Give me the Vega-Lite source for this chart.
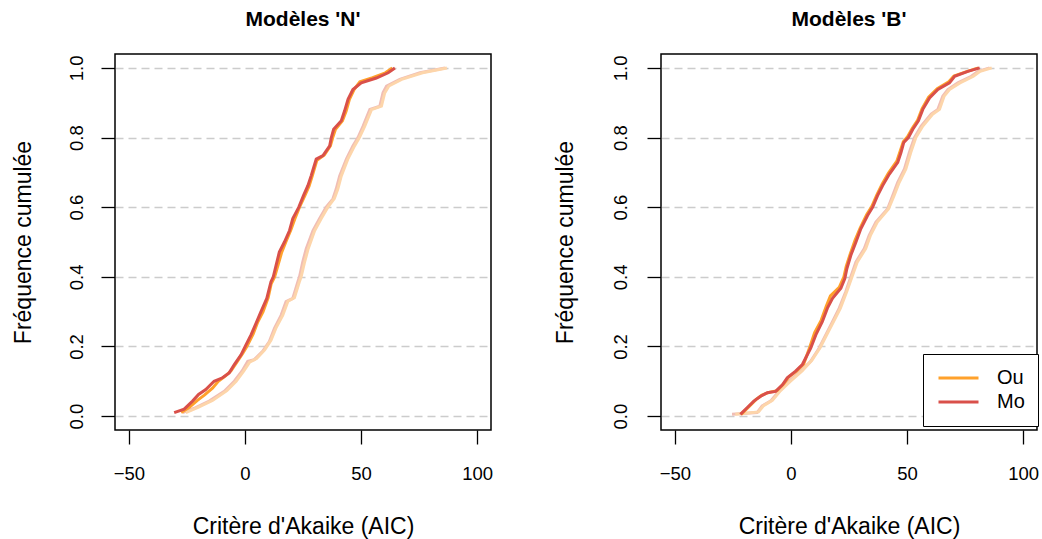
{
"$schema": "https://vega.github.io/schema/vega-lite/v6.json",
"background": "white",
"padding": {"left": 11, "top": 8, "right": 2, "bottom": 2},
"bounds": "flush",
"spacing": 170,
"config": {
  "font": "Liberation Sans",
  "view": {"stroke": "black", "strokeWidth": 1.5},
  "axis": {"domain": false, "tickColor": "black", "tickWidth": 1.3, "tickSize": 14, "labelFont": "Liberation Sans", "labelFontSize": 18.5, "labelColor": "black", "titleFont": "Liberation Sans", "titleFontSize": 23, "titleFontWeight": "normal", "titleColor": "black", "grid": false},
  "title": {"font": "Liberation Sans", "fontSize": 21, "fontWeight": "bold", "color": "black", "anchor": "middle"}
},
"resolve": {"legend": {"color": "independent"}},
"datasets": {"d": [
{"p":"N","s":"Mo","x":-30.5,"y":0.01},{"p":"N","s":"Mo","x":-26.2,"y":0.02},{"p":"N","s":"Mo","x":-22.6,"y":0.043},{"p":"N","s":"Mo","x":-20,"y":0.062},{"p":"N","s":"Mo","x":-16.9,"y":0.076},{"p":"N","s":"Mo","x":-13.3,"y":0.1},{"p":"N","s":"Mo","x":-9.7,"y":0.11},{"p":"N","s":"Mo","x":-6.8,"y":0.124},{"p":"N","s":"Mo","x":-4.6,"y":0.148},{"p":"N","s":"Mo","x":-1.7,"y":0.176},{"p":"N","s":"Mo","x":0.1,"y":0.2},{"p":"N","s":"Mo","x":2.6,"y":0.233},{"p":"N","s":"Mo","x":4.8,"y":0.267},{"p":"N","s":"Mo","x":6.9,"y":0.3},{"p":"N","s":"Mo","x":9.4,"y":0.338},{"p":"N","s":"Mo","x":11.2,"y":0.386},{"p":"N","s":"Mo","x":12.2,"y":0.4},{"p":"N","s":"Mo","x":13.4,"y":0.433},{"p":"N","s":"Mo","x":14.8,"y":0.471},{"p":"N","s":"Mo","x":17,"y":0.5},{"p":"N","s":"Mo","x":19.2,"y":0.533},{"p":"N","s":"Mo","x":20.6,"y":0.567},{"p":"N","s":"Mo","x":23.2,"y":0.6},{"p":"N","s":"Mo","x":25.2,"y":0.633},{"p":"N","s":"Mo","x":27.1,"y":0.662},{"p":"N","s":"Mo","x":28.5,"y":0.69},{"p":"N","s":"Mo","x":30.7,"y":0.738},{"p":"N","s":"Mo","x":33.6,"y":0.748},{"p":"N","s":"Mo","x":36.5,"y":0.776},{"p":"N","s":"Mo","x":37.2,"y":0.8},{"p":"N","s":"Mo","x":38.2,"y":0.824},{"p":"N","s":"Mo","x":41.5,"y":0.848},{"p":"N","s":"Mo","x":42.9,"y":0.876},{"p":"N","s":"Mo","x":44.4,"y":0.91},{"p":"N","s":"Mo","x":46.5,"y":0.938},{"p":"N","s":"Mo","x":50.1,"y":0.957},{"p":"N","s":"Mo","x":56.6,"y":0.971},{"p":"N","s":"Mo","x":61.7,"y":0.986},{"p":"N","s":"Mo","x":64.6,"y":1.0},
{"p":"N","s":"Ou","x":-27.5,"y":0.01},{"p":"N","s":"Ou","x":-24,"y":0.025},{"p":"N","s":"Ou","x":-20.5,"y":0.045},{"p":"N","s":"Ou","x":-17.5,"y":0.06},{"p":"N","s":"Ou","x":-14,"y":0.08},{"p":"N","s":"Ou","x":-11.5,"y":0.1},{"p":"N","s":"Ou","x":-8.5,"y":0.115},{"p":"N","s":"Ou","x":-6,"y":0.13},{"p":"N","s":"Ou","x":-3.5,"y":0.155},{"p":"N","s":"Ou","x":-1,"y":0.18},{"p":"N","s":"Ou","x":0.8,"y":0.2},{"p":"N","s":"Ou","x":3.5,"y":0.235},{"p":"N","s":"Ou","x":5.5,"y":0.27},{"p":"N","s":"Ou","x":7.8,"y":0.3},{"p":"N","s":"Ou","x":10,"y":0.34},{"p":"N","s":"Ou","x":11.3,"y":0.38},{"p":"N","s":"Ou","x":12.8,"y":0.4},{"p":"N","s":"Ou","x":14.3,"y":0.435},{"p":"N","s":"Ou","x":15.8,"y":0.47},{"p":"N","s":"Ou","x":17.6,"y":0.5},{"p":"N","s":"Ou","x":19.8,"y":0.535},{"p":"N","s":"Ou","x":21.5,"y":0.567},{"p":"N","s":"Ou","x":23.5,"y":0.6},{"p":"N","s":"Ou","x":25.8,"y":0.633},{"p":"N","s":"Ou","x":27.6,"y":0.66},{"p":"N","s":"Ou","x":29,"y":0.69},{"p":"N","s":"Ou","x":31,"y":0.735},{"p":"N","s":"Ou","x":34.2,"y":0.75},{"p":"N","s":"Ou","x":36.8,"y":0.776},{"p":"N","s":"Ou","x":37.8,"y":0.8},{"p":"N","s":"Ou","x":39,"y":0.824},{"p":"N","s":"Ou","x":42,"y":0.848},{"p":"N","s":"Ou","x":43.6,"y":0.876},{"p":"N","s":"Ou","x":45,"y":0.91},{"p":"N","s":"Ou","x":47,"y":0.938},{"p":"N","s":"Ou","x":49.5,"y":0.96},{"p":"N","s":"Ou","x":55,"y":0.972},{"p":"N","s":"Ou","x":60.5,"y":0.986},{"p":"N","s":"Ou","x":63.5,"y":1.0},
{"p":"N","s":"Mo_ref","x":-26.9,"y":0.01},{"p":"N","s":"Mo_ref","x":-21.2,"y":0.024},{"p":"N","s":"Mo_ref","x":-15.4,"y":0.043},{"p":"N","s":"Mo_ref","x":-8.9,"y":0.071},{"p":"N","s":"Mo_ref","x":-4.6,"y":0.1},{"p":"N","s":"Mo_ref","x":-1.3,"y":0.129},{"p":"N","s":"Mo_ref","x":1.2,"y":0.157},{"p":"N","s":"Mo_ref","x":4,"y":0.162},{"p":"N","s":"Mo_ref","x":7.6,"y":0.186},{"p":"N","s":"Mo_ref","x":10.5,"y":0.214},{"p":"N","s":"Mo_ref","x":12.7,"y":0.252},{"p":"N","s":"Mo_ref","x":15.6,"y":0.29},{"p":"N","s":"Mo_ref","x":17.7,"y":0.329},{"p":"N","s":"Mo_ref","x":20.6,"y":0.338},{"p":"N","s":"Mo_ref","x":22.8,"y":0.386},{"p":"N","s":"Mo_ref","x":23.5,"y":0.4},{"p":"N","s":"Mo_ref","x":24.9,"y":0.443},{"p":"N","s":"Mo_ref","x":26.4,"y":0.481},{"p":"N","s":"Mo_ref","x":29.3,"y":0.533},{"p":"N","s":"Mo_ref","x":32.1,"y":0.567},{"p":"N","s":"Mo_ref","x":35,"y":0.6},{"p":"N","s":"Mo_ref","x":37.9,"y":0.624},{"p":"N","s":"Mo_ref","x":39.3,"y":0.652},{"p":"N","s":"Mo_ref","x":40.8,"y":0.69},{"p":"N","s":"Mo_ref","x":43.7,"y":0.738},{"p":"N","s":"Mo_ref","x":46.5,"y":0.776},{"p":"N","s":"Mo_ref","x":48.7,"y":0.8},{"p":"N","s":"Mo_ref","x":50.9,"y":0.833},{"p":"N","s":"Mo_ref","x":53.8,"y":0.881},{"p":"N","s":"Mo_ref","x":58.1,"y":0.89},{"p":"N","s":"Mo_ref","x":59.5,"y":0.929},{"p":"N","s":"Mo_ref","x":61,"y":0.948},{"p":"N","s":"Mo_ref","x":66.7,"y":0.967},{"p":"N","s":"Mo_ref","x":75.4,"y":0.986},{"p":"N","s":"Mo_ref","x":86.2,"y":1.0},
{"p":"N","s":"Ou_ref","x":-25.5,"y":0.01},{"p":"N","s":"Ou_ref","x":-20,"y":0.026},{"p":"N","s":"Ou_ref","x":-14,"y":0.045},{"p":"N","s":"Ou_ref","x":-7.8,"y":0.073},{"p":"N","s":"Ou_ref","x":-3.8,"y":0.1},{"p":"N","s":"Ou_ref","x":-0.5,"y":0.13},{"p":"N","s":"Ou_ref","x":2,"y":0.155},{"p":"N","s":"Ou_ref","x":5,"y":0.165},{"p":"N","s":"Ou_ref","x":8.5,"y":0.19},{"p":"N","s":"Ou_ref","x":11.2,"y":0.218},{"p":"N","s":"Ou_ref","x":13.5,"y":0.255},{"p":"N","s":"Ou_ref","x":16.3,"y":0.29},{"p":"N","s":"Ou_ref","x":18.5,"y":0.33},{"p":"N","s":"Ou_ref","x":21.3,"y":0.34},{"p":"N","s":"Ou_ref","x":23.4,"y":0.385},{"p":"N","s":"Ou_ref","x":24.2,"y":0.4},{"p":"N","s":"Ou_ref","x":25.6,"y":0.44},{"p":"N","s":"Ou_ref","x":27.2,"y":0.48},{"p":"N","s":"Ou_ref","x":30,"y":0.532},{"p":"N","s":"Ou_ref","x":32.8,"y":0.567},{"p":"N","s":"Ou_ref","x":35.7,"y":0.6},{"p":"N","s":"Ou_ref","x":38.5,"y":0.625},{"p":"N","s":"Ou_ref","x":40,"y":0.652},{"p":"N","s":"Ou_ref","x":41.5,"y":0.69},{"p":"N","s":"Ou_ref","x":44.3,"y":0.738},{"p":"N","s":"Ou_ref","x":47.2,"y":0.776},{"p":"N","s":"Ou_ref","x":49.3,"y":0.8},{"p":"N","s":"Ou_ref","x":51.6,"y":0.833},{"p":"N","s":"Ou_ref","x":54.5,"y":0.88},{"p":"N","s":"Ou_ref","x":58.8,"y":0.89},{"p":"N","s":"Ou_ref","x":60.2,"y":0.928},{"p":"N","s":"Ou_ref","x":62,"y":0.948},{"p":"N","s":"Ou_ref","x":67.5,"y":0.967},{"p":"N","s":"Ou_ref","x":76.5,"y":0.986},{"p":"N","s":"Ou_ref","x":87,"y":1.0},
{"p":"B","s":"Mo","x":-21.8,"y":0.005},{"p":"B","s":"Mo","x":-18.9,"y":0.024},{"p":"B","s":"Mo","x":-16,"y":0.043},{"p":"B","s":"Mo","x":-13.1,"y":0.057},{"p":"B","s":"Mo","x":-10.2,"y":0.067},{"p":"B","s":"Mo","x":-6.6,"y":0.071},{"p":"B","s":"Mo","x":-3.7,"y":0.09},{"p":"B","s":"Mo","x":-1.6,"y":0.11},{"p":"B","s":"Mo","x":2,"y":0.129},{"p":"B","s":"Mo","x":4.9,"y":0.148},{"p":"B","s":"Mo","x":8.5,"y":0.195},{"p":"B","s":"Mo","x":10.7,"y":0.233},{"p":"B","s":"Mo","x":13.5,"y":0.271},{"p":"B","s":"Mo","x":15.7,"y":0.31},{"p":"B","s":"Mo","x":17.9,"y":0.338},{"p":"B","s":"Mo","x":21.5,"y":0.367},{"p":"B","s":"Mo","x":23.2,"y":0.395},{"p":"B","s":"Mo","x":24.1,"y":0.424},{"p":"B","s":"Mo","x":25.8,"y":0.462},{"p":"B","s":"Mo","x":28,"y":0.5},{"p":"B","s":"Mo","x":30.1,"y":0.538},{"p":"B","s":"Mo","x":33,"y":0.576},{"p":"B","s":"Mo","x":35.2,"y":0.6},{"p":"B","s":"Mo","x":37.3,"y":0.633},{"p":"B","s":"Mo","x":39.5,"y":0.662},{"p":"B","s":"Mo","x":42.4,"y":0.695},{"p":"B","s":"Mo","x":46,"y":0.729},{"p":"B","s":"Mo","x":47.4,"y":0.757},{"p":"B","s":"Mo","x":48.6,"y":0.786},{"p":"B","s":"Mo","x":50.6,"y":0.8},{"p":"B","s":"Mo","x":52.5,"y":0.824},{"p":"B","s":"Mo","x":54.9,"y":0.848},{"p":"B","s":"Mo","x":56.8,"y":0.881},{"p":"B","s":"Mo","x":59.7,"y":0.914},{"p":"B","s":"Mo","x":63.3,"y":0.938},{"p":"B","s":"Mo","x":68.3,"y":0.957},{"p":"B","s":"Mo","x":70.5,"y":0.976},{"p":"B","s":"Mo","x":76.2,"y":0.99},{"p":"B","s":"Mo","x":81.3,"y":1.0},
{"p":"B","s":"Ou","x":-21.5,"y":0.005},{"p":"B","s":"Ou","x":-18,"y":0.028},{"p":"B","s":"Ou","x":-15,"y":0.048},{"p":"B","s":"Ou","x":-12.5,"y":0.06},{"p":"B","s":"Ou","x":-9.5,"y":0.068},{"p":"B","s":"Ou","x":-6,"y":0.073},{"p":"B","s":"Ou","x":-3.2,"y":0.092},{"p":"B","s":"Ou","x":-1,"y":0.112},{"p":"B","s":"Ou","x":2.5,"y":0.13},{"p":"B","s":"Ou","x":5.5,"y":0.15},{"p":"B","s":"Ou","x":8.2,"y":0.2},{"p":"B","s":"Ou","x":10.2,"y":0.24},{"p":"B","s":"Ou","x":13,"y":0.275},{"p":"B","s":"Ou","x":15.2,"y":0.315},{"p":"B","s":"Ou","x":17,"y":0.345},{"p":"B","s":"Ou","x":20.8,"y":0.37},{"p":"B","s":"Ou","x":22.8,"y":0.4},{"p":"B","s":"Ou","x":23.8,"y":0.43},{"p":"B","s":"Ou","x":25.5,"y":0.465},{"p":"B","s":"Ou","x":27.6,"y":0.505},{"p":"B","s":"Ou","x":29.8,"y":0.54},{"p":"B","s":"Ou","x":32.6,"y":0.578},{"p":"B","s":"Ou","x":34.8,"y":0.602},{"p":"B","s":"Ou","x":37,"y":0.635},{"p":"B","s":"Ou","x":39.2,"y":0.665},{"p":"B","s":"Ou","x":42,"y":0.698},{"p":"B","s":"Ou","x":45.6,"y":0.732},{"p":"B","s":"Ou","x":47,"y":0.76},{"p":"B","s":"Ou","x":48.4,"y":0.788},{"p":"B","s":"Ou","x":50.3,"y":0.803},{"p":"B","s":"Ou","x":52.2,"y":0.826},{"p":"B","s":"Ou","x":54.6,"y":0.85},{"p":"B","s":"Ou","x":56.5,"y":0.883},{"p":"B","s":"Ou","x":59.3,"y":0.916},{"p":"B","s":"Ou","x":63,"y":0.94},{"p":"B","s":"Ou","x":68,"y":0.96},{"p":"B","s":"Ou","x":70.2,"y":0.977},{"p":"B","s":"Ou","x":76,"y":0.99},{"p":"B","s":"Ou","x":80.8,"y":1.0},
{"p":"B","s":"Mo_ref","x":-25.4,"y":0.005},{"p":"B","s":"Mo_ref","x":-14.6,"y":0.01},{"p":"B","s":"Mo_ref","x":-12.4,"y":0.029},{"p":"B","s":"Mo_ref","x":-8.8,"y":0.043},{"p":"B","s":"Mo_ref","x":-5.2,"y":0.071},{"p":"B","s":"Mo_ref","x":-0.9,"y":0.1},{"p":"B","s":"Mo_ref","x":4.2,"y":0.129},{"p":"B","s":"Mo_ref","x":8.5,"y":0.157},{"p":"B","s":"Mo_ref","x":12.1,"y":0.195},{"p":"B","s":"Mo_ref","x":15,"y":0.233},{"p":"B","s":"Mo_ref","x":17.9,"y":0.271},{"p":"B","s":"Mo_ref","x":20.8,"y":0.31},{"p":"B","s":"Mo_ref","x":23.6,"y":0.357},{"p":"B","s":"Mo_ref","x":25.8,"y":0.4},{"p":"B","s":"Mo_ref","x":28,"y":0.443},{"p":"B","s":"Mo_ref","x":31.6,"y":0.481},{"p":"B","s":"Mo_ref","x":33.7,"y":0.519},{"p":"B","s":"Mo_ref","x":36.6,"y":0.557},{"p":"B","s":"Mo_ref","x":41.6,"y":0.595},{"p":"B","s":"Mo_ref","x":43.8,"y":0.633},{"p":"B","s":"Mo_ref","x":46,"y":0.671},{"p":"B","s":"Mo_ref","x":48.9,"y":0.71},{"p":"B","s":"Mo_ref","x":51,"y":0.757},{"p":"B","s":"Mo_ref","x":53.2,"y":0.8},{"p":"B","s":"Mo_ref","x":56.1,"y":0.833},{"p":"B","s":"Mo_ref","x":60.4,"y":0.867},{"p":"B","s":"Mo_ref","x":63.3,"y":0.881},{"p":"B","s":"Mo_ref","x":65.4,"y":0.919},{"p":"B","s":"Mo_ref","x":67.6,"y":0.938},{"p":"B","s":"Mo_ref","x":71.9,"y":0.957},{"p":"B","s":"Mo_ref","x":77.7,"y":0.976},{"p":"B","s":"Mo_ref","x":80.6,"y":0.99},{"p":"B","s":"Mo_ref","x":85.6,"y":1.0},
{"p":"B","s":"Ou_ref","x":-24,"y":0.005},{"p":"B","s":"Ou_ref","x":-14,"y":0.012},{"p":"B","s":"Ou_ref","x":-11.8,"y":0.03},{"p":"B","s":"Ou_ref","x":-8,"y":0.045},{"p":"B","s":"Ou_ref","x":-4.5,"y":0.073},{"p":"B","s":"Ou_ref","x":-0.2,"y":0.1},{"p":"B","s":"Ou_ref","x":4.8,"y":0.13},{"p":"B","s":"Ou_ref","x":9,"y":0.16},{"p":"B","s":"Ou_ref","x":12.6,"y":0.197},{"p":"B","s":"Ou_ref","x":15.5,"y":0.235},{"p":"B","s":"Ou_ref","x":18.4,"y":0.272},{"p":"B","s":"Ou_ref","x":21.3,"y":0.31},{"p":"B","s":"Ou_ref","x":24,"y":0.357},{"p":"B","s":"Ou_ref","x":26.3,"y":0.4},{"p":"B","s":"Ou_ref","x":28.6,"y":0.443},{"p":"B","s":"Ou_ref","x":32.2,"y":0.481},{"p":"B","s":"Ou_ref","x":34.3,"y":0.52},{"p":"B","s":"Ou_ref","x":37.2,"y":0.557},{"p":"B","s":"Ou_ref","x":42,"y":0.595},{"p":"B","s":"Ou_ref","x":44.4,"y":0.633},{"p":"B","s":"Ou_ref","x":46.6,"y":0.671},{"p":"B","s":"Ou_ref","x":49.5,"y":0.71},{"p":"B","s":"Ou_ref","x":51.6,"y":0.757},{"p":"B","s":"Ou_ref","x":53.8,"y":0.8},{"p":"B","s":"Ou_ref","x":56.8,"y":0.833},{"p":"B","s":"Ou_ref","x":61,"y":0.867},{"p":"B","s":"Ou_ref","x":64,"y":0.881},{"p":"B","s":"Ou_ref","x":66,"y":0.919},{"p":"B","s":"Ou_ref","x":68.3,"y":0.938},{"p":"B","s":"Ou_ref","x":72.8,"y":0.957},{"p":"B","s":"Ou_ref","x":78.6,"y":0.976},{"p":"B","s":"Ou_ref","x":81.5,"y":0.99},{"p":"B","s":"Ou_ref","x":86.5,"y":1.0}
]},
"hconcat": [
{
  "width": 376, "height": 376,
  "title": {"text": "Modèles 'N'", "offset": 7, "baseline": "alphabetic"},
  "data": {"name": "d"},
  "transform": [{"filter": "datum.p === 'N'"}],
  "encoding": {
    "x": {"field": "x", "type": "quantitative", "scale": {"domain": [-56, 106], "nice": false, "zero": false}, "axis": {"values": [-50, 0, 50, 100], "title": "Critère d'Akaike (AIC)", "labelBaseline": "alphabetic", "labelPadding": 35, "titleY": 103, "titleBaseline": "alphabetic"}},
    "y": {"field": "y", "type": "quantitative", "scale": {"domain": [-0.04, 1.04], "nice": false, "zero": false}, "axis": {"values": [0, 0.2, 0.4, 0.6, 0.8, 1], "format": ".1f", "labelAngle": -90, "labelAlign": "center", "labelBaseline": "middle", "labelPadding": 25, "grid": true, "gridDash": [8, 5], "gridColor": "#cccccc", "gridWidth": 1.5, "title": "Fréquence cumulée", "titleX": -92, "titleBaseline": "middle", "titleAngle": -90}},
    "color": {"field": "s", "type": "nominal", "scale": {"domain": ["Ou", "Mo", "Ou_ref", "Mo_ref"], "range": ["#FFA12B", "#D9504A", "#FDD5AA", "#F0BDB5"]}, "legend": null}
  },
  "layer": [
    {"transform": [{"filter": "datum.s === 'Ou_ref' || datum.s === 'Mo_ref'"}], "mark": {"type": "line", "strokeWidth": 3}},
    {"transform": [{"filter": "datum.s === 'Ou'"}], "mark": {"type": "line", "strokeWidth": 3}},
    {"transform": [{"filter": "datum.s === 'Mo'"}], "mark": {"type": "line", "strokeWidth": 3}}
  ]
},
{
  "width": 376, "height": 376,
  "title": {"text": "Modèles 'B'", "offset": 7, "baseline": "alphabetic"},
  "data": {"name": "d"},
  "transform": [{"filter": "datum.p === 'B'"}],
  "encoding": {
    "x": {"field": "x", "type": "quantitative", "scale": {"domain": [-56, 106], "nice": false, "zero": false}, "axis": {"values": [-50, 0, 50, 100], "title": "Critère d'Akaike (AIC)", "labelBaseline": "alphabetic", "labelPadding": 35, "titleY": 103, "titleBaseline": "alphabetic"}},
    "y": {"field": "y", "type": "quantitative", "scale": {"domain": [-0.04, 1.04], "nice": false, "zero": false}, "axis": {"values": [0, 0.2, 0.4, 0.6, 0.8, 1], "format": ".1f", "labelAngle": -90, "labelAlign": "center", "labelBaseline": "middle", "labelPadding": 27, "grid": true, "gridDash": [8, 5], "gridColor": "#cccccc", "gridWidth": 1.5, "title": "Fréquence cumulée", "titleX": -96, "titleBaseline": "middle", "titleAngle": -90}},
    "color": {"field": "s", "type": "nominal", "scale": {"domain": ["Ou", "Mo", "Ou_ref", "Mo_ref"], "range": ["#FFA12B", "#D9504A", "#FDD5AA", "#F0BDB5"]},
      "legend": {"values": ["Ou", "Mo"], "orient": "none", "legendX": 262, "legendY": 300, "title": null, "symbolType": "stroke", "symbolSize": 1600, "symbolStrokeWidth": 3, "clipHeight": 22, "rowPadding": 2, "padding": 13, "symbolOffset": 1, "labelOffset": 17, "labelFontSize": 20, "labelFont": "Liberation Sans", "labelColor": "black", "strokeColor": "black", "fillColor": "white", "cornerRadius": 0}}
  },
  "layer": [
    {"transform": [{"filter": "datum.s === 'Ou_ref' || datum.s === 'Mo_ref'"}], "mark": {"type": "line", "strokeWidth": 3}},
    {"transform": [{"filter": "datum.s === 'Ou'"}], "mark": {"type": "line", "strokeWidth": 3}},
    {"transform": [{"filter": "datum.s === 'Mo'"}], "mark": {"type": "line", "strokeWidth": 3}}
  ]
}
]
}
